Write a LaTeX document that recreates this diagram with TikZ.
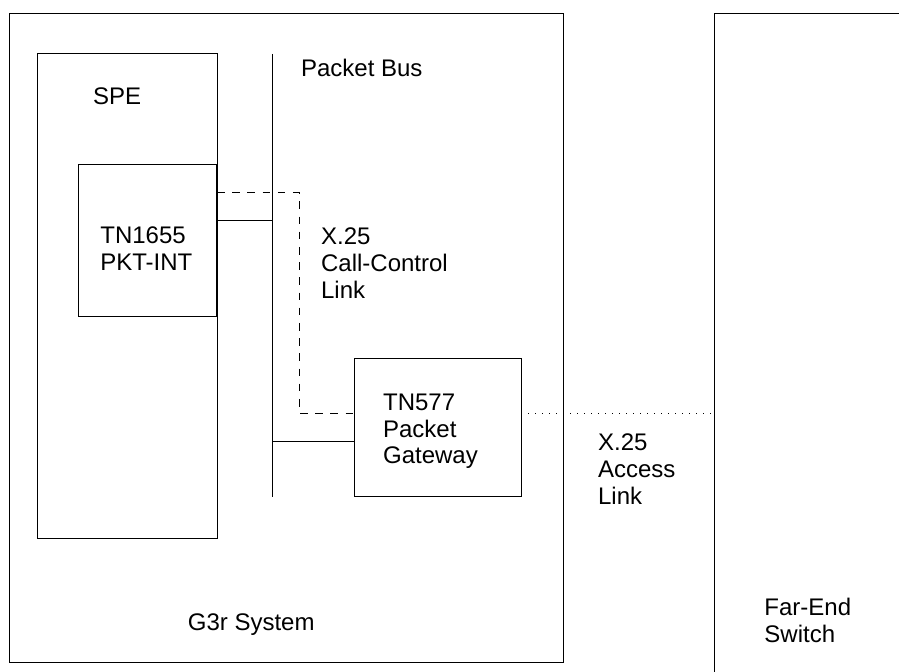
\documentclass[tikz,border=0pt]{standalone}
\usepackage{fontspec}
\setmainfont{Liberation Sans}
\usetikzlibrary{calc}

\begin{document}
\begin{tikzpicture}[font=\fontsize{12pt}{13.35pt}\selectfont,
  box/.style={draw, line width=0.5pt, inner sep=0pt, outer sep=0pt},
  lab/.style={anchor=base west, inner sep=0pt, align=left},
  ctllink/.style={line width=0.5pt, dash pattern=on 3.8pt off 3.8pt},
  accesslink/.style={line width=0.5pt, dash pattern=on 0.6pt off 2.9pt}]
  \useasboundingbox (0,0) rectangle (15.798,11.809);

  % boxes
  \node[box, minimum width=9.731cm, minimum height=11.417cm] (system) at (5.029,5.867) {};
  \node[box, minimum width=3.163cm, minimum height=8.510cm] (spe) at (2.232,6.605) {};
  \node[box, minimum width=2.430cm, minimum height=2.671cm] (tn1655) at (2.598,7.580) {};
  \node[box, minimum width=2.918cm, minimum height=2.419cm] (gw) at (7.697,4.291) {};
  \coordinate (farend) at (12.552,11.575);
  \draw[line width=0.5pt] (15.798,11.575) -- (farend) -- (12.552,0);

  % packet bus
  \coordinate (bustop) at (4.780,10.860);
  \coordinate (busbot) at (4.780,3.081);
  \draw[line width=0.5pt] (bustop) -- (busbot);

  % links
  \draw[line width=0.5pt] (tn1655.east) ++(0,0.354) coordinate (pktport) -- (pktport -| bustop);
  \draw[line width=0.5pt] (gw.west) ++(0,-0.244) coordinate (busport) -- (busport -| bustop);
  \coordinate (gwport) at ($(gw.west)+(0,0.250)$);
  \draw[ctllink] (tn1655.east) ++(0,0.844) -| ($(gwport)+(-0.975,0)$) -- (gwport);
  \draw[accesslink] (gw.east |- gwport) -- (gwport -| farend);

  % labels (base = last line)
  \node[lab] (spelab) at (1.629,9.981) {SPE};
  \node[lab] (buslab) at (5.284,10.461) {Packet Bus};
  \node[lab] (tn1655lab) at (1.757,7.064) {TN1655\\PKT-INT};
  \node[lab] (ctllab) at (5.636,6.572) {X.25\\Call-Control\\Link};
  \node[lab] (gwlab) at (6.725,3.655) {TN577\\Packet\\Gateway};
  \node[lab] (accesslab) at (10.503,2.947) {X.25\\Access\\Link};
  \node[lab] (syslab) at (3.295,0.726) {G3r System};
  \node[lab] (farendlab) at (13.426,0.515) {Far-End\\Switch};
\end{tikzpicture}
\end{document}
